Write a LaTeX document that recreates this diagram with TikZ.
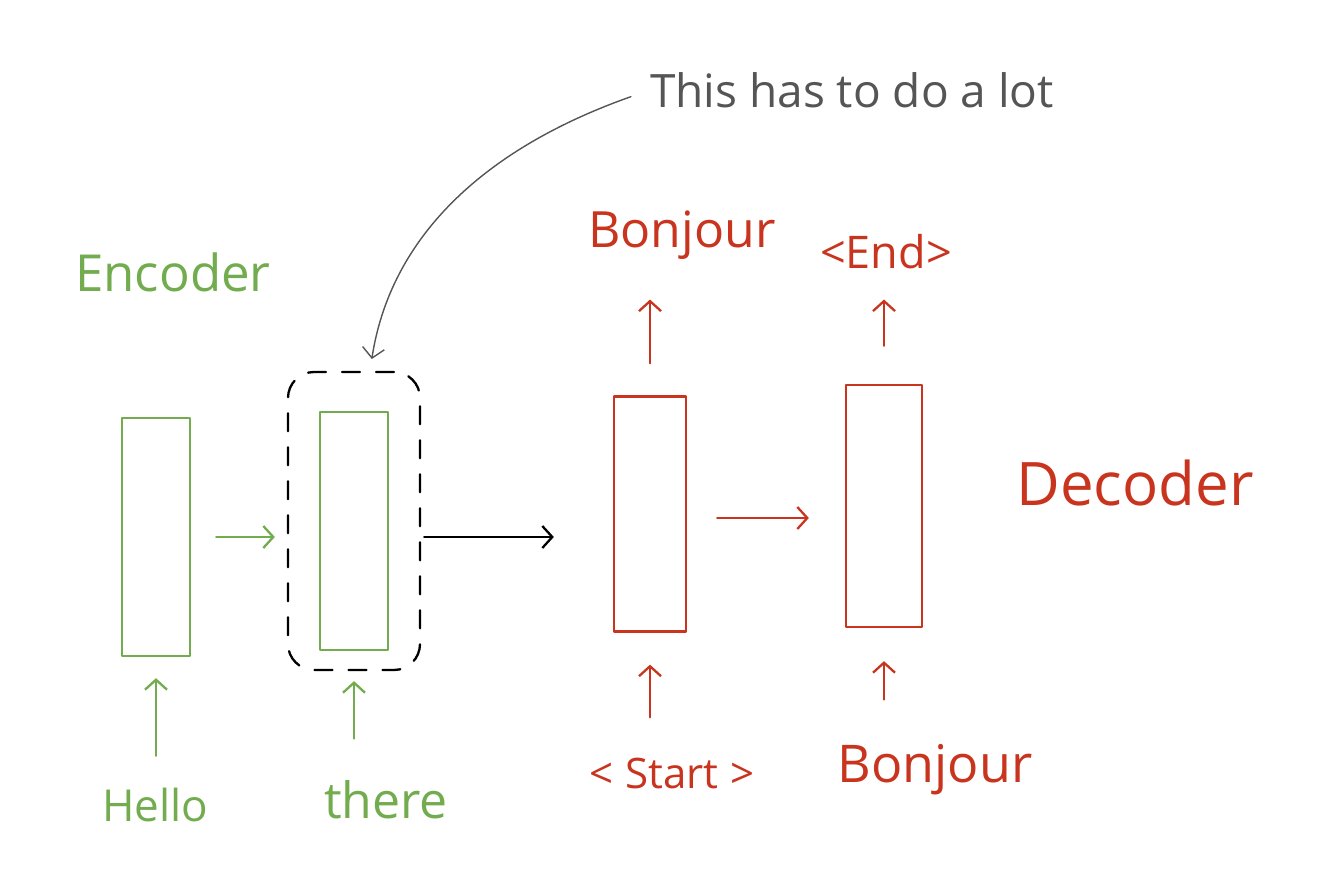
\documentclass[tikz,border=0pt]{standalone}
\usepackage{fontspec}
\setmainfont{Open Sans}
\usetikzlibrary{arrows.meta}
\definecolor{enc}{HTML}{72AC4E}
\definecolor{dec}{HTML}{C8341E}
\definecolor{note}{HTML}{555555}
\tikzset{
  hand/.style={line width=2.3pt, line cap=round, line join=round},
  barb/.style={-{Straight Barb[length=10pt,width=22pt,line width=2.3pt]}},
  cell/.style={hand, draw, minimum width=#1, minimum height=238pt, inner sep=0pt},
  word/.style={inner sep=0pt, font=\fontsize{#1}{#1}\selectfont},
}
\begin{document}
\begin{tikzpicture}[x=1pt,y=-1pt]
\useasboundingbox (0,0) rectangle (1341,882);
% boxes
\node[cell=68pt, enc] (b1) at (156,537) {};
\node[cell=68pt, enc] (b2) at (354,531) {};
\node[cell=72pt, dec, minimum height=235pt] (b3) at (650,514) {};
\node[cell=76pt, dec, minimum height=242pt] (b4) at (884,506) {};
\node[hand, draw=black, dash pattern=on 18pt off 16pt, rounded corners=26pt,
      minimum width=132pt, minimum height=298pt] (grp) at (354,521) {};
\coordinate (ry) at (0,518);
% texts
\node[word=51pt, enc] (encl) at (173,272) {Encoder};
\node[word=44pt, enc] (hello) at (155,805) {Hello};
\node[word=50pt, enc] (there) at (386,800) {there};
\node[word=42pt, dec] (start) at (672,773) {<\;Start\;>};
\node[word=52pt, dec] (bonb) at (935,770) {Bonjour};
\node[word=50pt, dec] (bont) at (682,235) {Bonjour};
\node[word=45pt, dec] (endl) at (886,252) {<End>};
\node[word=60pt, dec] (decl) at (1135,483) {Decoder};
\node[word=46pt, note] (annot) at (852,90) {This has to do a lot};
% horizontal arrows
\draw[hand, barb, enc, shorten <=25pt, shorten >=44pt] (b1.east) -- (b2.west |- b1.east);
\draw[hand, barb, black, shorten <=3pt, shorten >=59pt] (grp.east |- b1.east) -- (b3.west |- b1.east);
\draw[hand, barb, dec, shorten <=30pt, shorten >=36pt] (b3.east |- ry) -- (b4.west |- ry);
% vertical arrows
\draw[hand, barb, enc, shorten <=32pt, shorten >=21pt] (hello.north -| b1.south) -- (b1.south);
\draw[hand, barb, enc, shorten <=42pt, shorten >=30pt] (there.north -| b2.south) -- (b2.south);
\draw[hand, barb, dec, shorten <=40pt, shorten >=32pt] (start.north -| b3.south) -- (b3.south);
\draw[hand, barb, dec, shorten <=45pt, shorten >=33pt] (bonb.north -| b4.south) -- (b4.south);
\draw[hand, barb, dec, shorten <=32pt, shorten >=40pt] (b3.north) -- (bont.south -| b3.north);
\draw[hand, barb, dec, shorten <=38pt, shorten >=30pt] (b4.north) -- (endl.south -| b4.north);
% annotation arrow
\draw[line width=1.4pt, line cap=round, note, -{Straight Barb[length=10pt,width=22pt,line width=1.4pt]}, shorten <=20pt, shorten >=12pt]
  (annot.west) .. controls (480,150) and (390,240) .. ([xshift=16pt]grp.north);
\end{tikzpicture}
\end{document}
